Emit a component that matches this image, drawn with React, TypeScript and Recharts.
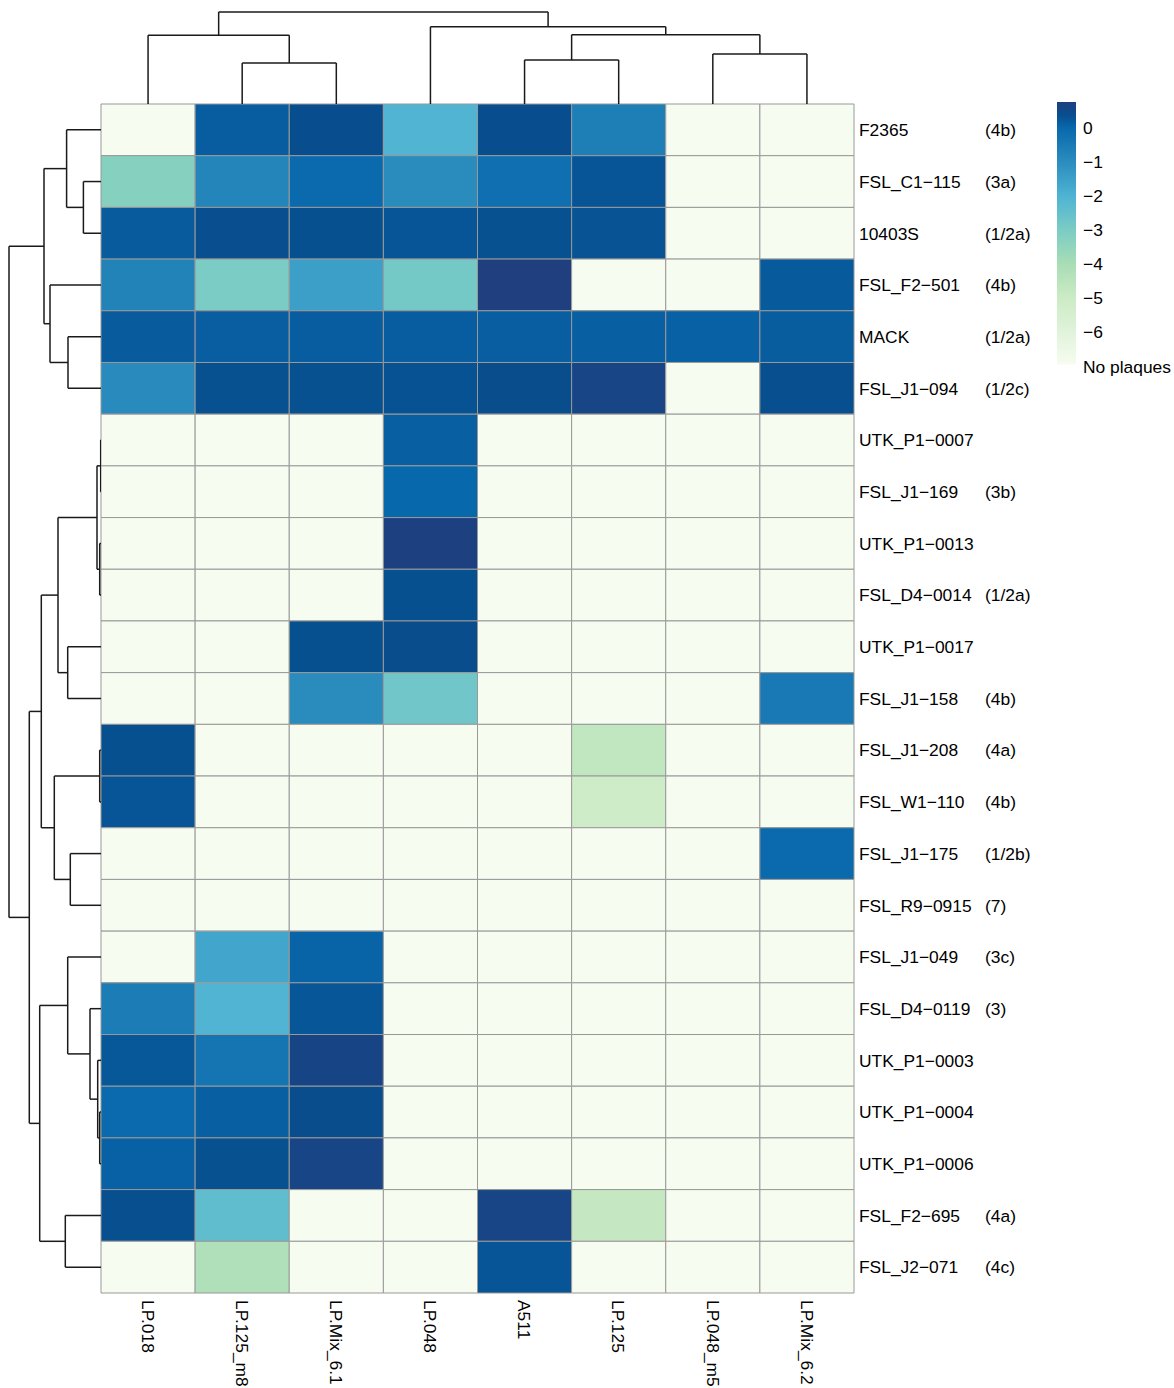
import React from "react";
import { ComposedChart, XAxis, YAxis, ReferenceArea, ReferenceLine } from "recharts";

// phage columns, in dendrogram order
const phages = ["LP.018", "LP.125_m8", "LP.Mix_6.1", "LP.048", "A511", "LP.125", "LP.048_m5", "LP.Mix_6.2"];

// strains (rows) and their serotypes
const strains = [
  "F2365", "FSL_C1−115", "10403S", "FSL_F2−501", "MACK", "FSL_J1−094",
  "UTK_P1−0007", "FSL_J1−169", "UTK_P1−0013", "FSL_D4−0014", "UTK_P1−0017",
  "FSL_J1−158", "FSL_J1−208", "FSL_W1−110", "FSL_J1−175", "FSL_R9−0915",
  "FSL_J1−049", "FSL_D4−0119", "UTK_P1−0003", "UTK_P1−0004", "UTK_P1−0006",
  "FSL_F2−695", "FSL_J2−071",
];
const serotypes = [
  "(4b)", "(3a)", "(1/2a)", "(4b)", "(1/2a)", "(1/2c)",
  "", "(3b)", "", "(1/2a)", "",
  "(4b)", "(4a)", "(4b)", "(1/2b)", "(7)",
  "(3c)", "(3)", "", "", "",
  "(4a)", "(4c)",
];

// log efficiency of plating, null = no plaques
const eop: (number | null)[][] = [
  [null, 0.15, 0.37, -2.05, 0.37, -0.63, null, null],
  [-3.24, -0.8, -0.05, -0.97, -0.2, 0.26, null, null],
  [0.17, 0.38, 0.34, 0.26, 0.32, 0.3, null, null],
  [-0.74, -3.0, -1.49, -2.84, 0.75, null, null, 0.2],
  [0.17, 0.14, 0.15, 0.15, 0.14, 0.13, 0.1, 0.16],
  [-0.94, 0.32, 0.32, 0.31, 0.4, 0.61, null, 0.36],
  [null, null, null, 0.13, null, null, null, null],
  [null, null, null, 0.0, null, null, null, null],
  [null, null, null, 0.72, null, null, null, null],
  [null, null, null, 0.34, null, null, null, null],
  [null, null, 0.34, 0.4, null, null, null, null],
  [null, null, -0.97, -2.76, null, null, null, -0.46],
  [0.34, null, null, null, null, -4.7, null, null],
  [0.26, null, null, null, null, -5.1, null, null],
  [null, null, null, null, null, null, null, -0.05],
  [null, null, null, null, null, null, null, null],
  [null, -1.66, 0.06, null, null, null, null, null],
  [-0.57, -2.05, 0.25, null, null, null, null, null],
  [0.23, -0.35, 0.62, null, null, null, null, null],
  [-0.05, 0.12, 0.4, null, null, null, null, null],
  [0.1, 0.32, 0.61, null, null, null, null, null],
  [0.36, -2.4, null, null, 0.61, -4.8, null, null],
  [null, -4.22, null, null, 0.26, null, null, null],
];

// hclust-style merges: negative = leaf (1-based), positive = earlier merge
const colMerges: [number, number, number][] = [
  [-2, -3, 41], [-5, -6, 44], [-7, -8, 50], [-1, 1, 68.7], [2, 3, 69.3], [-4, 5, 77.3], [4, 6, 92],
];
const rowMerges: [number, number, number][] = [
  [-7, -8, 0.3], [-9, -10, 1.3], [-13, -14, 1.3], [-20, -21, 1.3], [-19, 4, 3.3],
  [1, 2, 4], [-18, 5, 11], [-2, -3, 17.6], [-15, -16, 30.7], [-5, -6, 33],
  [-11, -12, 33.3], [-17, 7, 33.3], [-1, 8, 34.4], [-22, -23, 35.7], [6, 11, 43],
  [3, 9, 46.7], [-4, 10, 51], [13, 17, 57], [15, 16, 59.7], [12, 14, 61.3],
  [19, 20, 71.7], [18, 21, 92],
];

// legend scale
const scaleValues = [-7, -6, -5, -4, -3, -2, -1, 0, 0.35, 0.75];
const scaleColors = ["#f7fcf0", "#e0f3db", "#ccebc5", "#a8ddb5", "#7bccc4", "#4eb3d3", "#2b8cbe", "#0868ac", "#074f8f", "#1f3f7f"];
const legendTicks = [0, -1, -2, -3, -4, -5, -6, -7];
const legendLabels = ["0", "−1", "−2", "−3", "−4", "−5", "−6", "No plaques"];

const FONT = "'Liberation Sans', Arial, Helvetica, sans-serif";
const W = 1174;
const H = 1388;
const LINE = "#1a1a1a";

const hex = (c: string) => [1, 3, 5].map((i) => parseInt(c.slice(i, i + 2), 16));
function colorFor(v: number | null) {
  if (v === null) return scaleColors[0];
  if (v <= scaleValues[0]) return scaleColors[0];
  for (let i = 1; i < scaleValues.length; i++) {
    if (v <= scaleValues[i]) {
      const t = (v - scaleValues[i - 1]) / (scaleValues[i] - scaleValues[i - 1]);
      const a = hex(scaleColors[i - 1]);
      const b = hex(scaleColors[i]);
      const m = a.map((x, k) => Math.round(x + (b[k] - x) * t));
      return `rgb(${m[0]},${m[1]},${m[2]})`;
    }
  }
  return scaleColors[scaleColors.length - 1];
}

function dendroSegments(merges: [number, number, number][]) {
  const pos: number[] = [];
  const hts: number[] = [];
  const node = (id: number) => (id < 0 ? { p: -id - 0.5, h: 0 } : { p: pos[id - 1], h: hts[id - 1] });
  const segs: { p1: number; h1: number; p2: number; h2: number }[] = [];
  merges.forEach(([a, b, h], i) => {
    const A = node(a);
    const B = node(b);
    segs.push({ p1: A.p, h1: A.h, p2: A.p, h2: h });
    segs.push({ p1: B.p, h1: B.h, p2: B.p, h2: h });
    segs.push({ p1: A.p, h1: h, p2: B.p, h2: h });
    pos[i] = (A.p + B.p) / 2;
    hts[i] = h;
  });
  return segs;
}

const RowTick = (props: any) => {
  const { x, y, payload } = props;
  const i = Math.floor(payload.value);
  return (
    <g>
      <text x={x} y={y} dy="0.36em" fontSize={17.4} fontFamily={FONT} fill="#000">
        {strains[i]}
      </text>
      <text x={x + 126} y={y} dy="0.36em" fontSize={17.4} fontFamily={FONT} fill="#000">
        {serotypes[i]}
      </text>
    </g>
  );
};

const ColTick = (props: any) => {
  const { x, y, payload } = props;
  const i = Math.floor(payload.value);
  return (
    <text
      x={x}
      y={y}
      dy="0.36em"
      transform={`rotate(90, ${x}, ${y})`}
      textAnchor="start"
      fontSize={17.4}
      fontFamily={FONT}
      fill="#000"
    >
      {phages[i]}
    </text>
  );
};

const LegendTick = (props: any) => {
  const { x, y, payload } = props;
  const i = legendTicks.indexOf(payload.value);
  return (
    <text x={x} y={y} dy="0.36em" fontSize={17.4} fontFamily={FONT} fill="#000">
      {legendLabels[i]}
    </text>
  );
};

const layer: React.CSSProperties = { position: "absolute", left: 0, top: 0 };

export default function App() {
  const colSegs = dendroSegments(colMerges);
  const rowSegs = dendroSegments(rowMerges);
  const colCenters = phages.map((_, i) => i + 0.5);
  const rowCenters = strains.map((_, i) => i + 0.5);
  const legendOffsets = scaleValues.map((v) => (0.75 - v) / 7.7);

  const quietX = { axisLine: false, tickLine: false, tick: false, height: 0 } as const;
  const quietY = { axisLine: false, tickLine: false, tick: false, width: 0 } as const;

  return (
    <div style={{ position: "absolute", left: 0, top: 0, width: W, height: H, background: "#fff", fontFamily: FONT }}>
      {/* heatmap */}
      <div style={layer}>
        <ComposedChart width={W} height={H} margin={{ top: 104, right: 20, bottom: 5, left: 101 }}>
          <XAxis
            type="number"
            dataKey="x"
            domain={[0, 8]}
            ticks={colCenters}
            interval={0}
            height={90}
            axisLine={false}
            tickLine={false}
            tickSize={0}
            tickMargin={7}
            tick={<ColTick />}
            allowDataOverflow
          />
          <YAxis
            type="number"
            dataKey="y"
            orientation="right"
            domain={[0, 23]}
            reversed
            ticks={rowCenters}
            interval={0}
            width={300}
            axisLine={false}
            tickLine={false}
            tickSize={0}
            tickMargin={5}
            tick={<RowTick />}
            allowDataOverflow
          />
          {eop.map((row, r) =>
            row.map((v, c) => (
              <ReferenceArea
                key={`${r}-${c}`}
                x1={c}
                x2={c + 1}
                y1={r}
                y2={r + 1}
                fill={colorFor(v)}
                fillOpacity={1}
                stroke="#999999"
                strokeWidth={1}
              />
            ))
          )}
        </ComposedChart>
      </div>

      {/* column dendrogram */}
      <div style={layer}>
        <ComposedChart width={W} height={104} margin={{ top: 12, right: 320, bottom: 0, left: 101 }}>
          <XAxis type="number" dataKey="x" domain={[0, 8]} {...quietX} allowDataOverflow />
          <YAxis type="number" dataKey="y" domain={[0, 92]} {...quietY} allowDataOverflow />
          {colSegs.map((s, i) => (
            <ReferenceLine
              key={i}
              segment={[{ x: s.p1, y: s.h1 }, { x: s.p2, y: s.h2 }]}
              stroke={LINE}
              strokeWidth={1.5}
              ifOverflow="visible"
            />
          ))}
        </ComposedChart>
      </div>

      {/* row dendrogram */}
      <div style={layer}>
        <ComposedChart width={101} height={H} margin={{ top: 104, right: 0, bottom: 95, left: 9 }}>
          <XAxis type="number" dataKey="x" domain={[0, 92]} reversed {...quietX} allowDataOverflow />
          <YAxis type="number" dataKey="y" domain={[0, 23]} reversed {...quietY} allowDataOverflow />
          {rowSegs.map((s, i) => (
            <ReferenceLine
              key={i}
              segment={[{ x: s.h1, y: s.p1 }, { x: s.h2, y: s.p2 }]}
              stroke={LINE}
              strokeWidth={1.5}
              ifOverflow="visible"
            />
          ))}
        </ComposedChart>
      </div>

      {/* colour legend */}
      <div style={layer}>
        <ComposedChart width={W} height={H} margin={{ top: 102, right: 8, bottom: 1020, left: 1057 }}>
          <defs>
            <linearGradient id="eopScale" x1="0" y1="0" x2="0" y2="1">
              {scaleColors
                .map((c, i) => ({ c, o: legendOffsets[i] }))
                .reverse()
                .map((s, i) => (
                  <stop key={i} offset={s.o} stopColor={s.c} />
                ))}
            </linearGradient>
          </defs>
          <XAxis type="number" dataKey="x" domain={[0, 1]} {...quietX} allowDataOverflow />
          <YAxis
            type="number"
            dataKey="y"
            orientation="right"
            domain={[-7.05, 0.75]}
            ticks={legendTicks}
            interval={0}
            width={90}
            axisLine={false}
            tickLine={false}
            tickSize={0}
            tickMargin={7}
            tick={<LegendTick />}
            allowDataOverflow
          />
          <ReferenceArea x1={0} x2={1} y1={-6.95} y2={0.75} fill="url(#eopScale)" fillOpacity={1} stroke="none" />
        </ComposedChart>
      </div>
    </div>
  );
}
